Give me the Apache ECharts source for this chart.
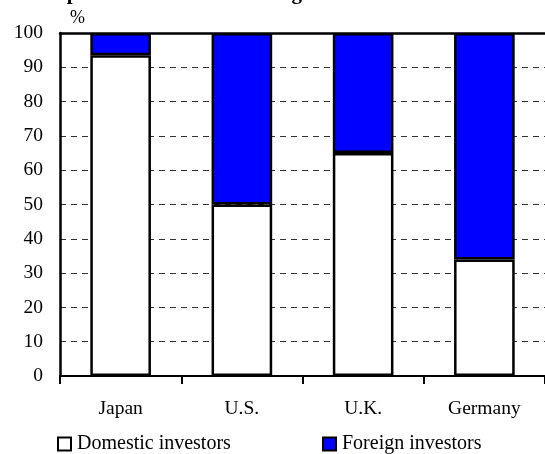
<!DOCTYPE html>
<html>
<head>
<meta charset="utf-8">
<style>html,body{margin:0;padding:0;background:#fff;}#c{width:545px;height:454px;}</style>
<script src="https://cdn.jsdelivr.net/npm/echarts@6/dist/echarts.min.js"></script>
</head>
<body>
<div id="c"></div>
<script>
const titleText = "Comparison of breakdown of government bond holders";
const categories = ["Japan", "U.S.", "U.K.", "Germany"];
const domestic = [93.5, 50, 65, 34];
const foreign = [6.5, 50, 35, 66];
const yTicks = [0, 10, 20, 30, 40, 50, 60, 70, 80, 90, 100];
const seriesNames = ["Domestic investors", "Foreign investors"];

const font = "'Liberation Serif', 'Times New Roman', serif";
const chart = echarts.init(document.getElementById('c'), null, {renderer: 'canvas'});
chart.setOption({
  animation: false,
  backgroundColor: '#fff',
  title: {
    text: titleText, left: 'center', top: -22,
    textStyle: {fontFamily: font, fontSize: 21, fontWeight: 'bold', color: '#000'}
  },
  grid: {left: 60, right: -6, top: 33, bottom: 78, containLabel: false},
  legend: [
    {data: [seriesNames[0]], left: 57, top: 434, padding: 0, icon: 'rect', itemWidth: 13, itemHeight: 13, itemGap: 4,
     textStyle: {fontFamily: font, fontSize: 20, color: '#000', padding: [0, 0, 0, 1]}},
    {data: [seriesNames[1]], left: 322, top: 434, padding: 0, icon: 'rect', itemWidth: 13, itemHeight: 13, itemGap: 4,
     textStyle: {fontFamily: font, fontSize: 20, color: '#000', padding: [0, 0, 0, 1]}}
  ],
  xAxis: [
    {type: 'category', data: categories, position: 'bottom',
     axisLine: {lineStyle: {color: '#000', width: 2}},
     axisTick: {show: true, length: 8, inside: false, lineStyle: {color: '#000', width: 2}},
     axisLabel: {fontFamily: font, fontSize: 19.5, color: '#000', margin: 23},
     splitLine: {show: false}},
    {type: 'category', data: categories, position: 'top',
     axisLine: {lineStyle: {color: '#000', width: 2.5}},
     axisTick: {show: false}, axisLabel: {show: false}, splitLine: {show: false}}
  ],
  yAxis: {
    type: 'value', min: yTicks[0], max: yTicks[yTicks.length - 1], interval: 10,
    name: '%', nameLocation: 'end', nameGap: 6,
    nameTextStyle: {fontFamily: font, fontSize: 18, color: '#000', align: 'left', padding: [0, 0, 0, 10]},
    axisLine: {show: true, lineStyle: {color: '#000', width: 2.5}},
    axisTick: {show: false},
    axisLabel: {fontFamily: font, fontSize: 19.5, color: '#000', margin: 17},
    splitLine: {show: true, lineStyle: {color: '#333', width: 1, type: [6, 5]}}
  },
  series: [
    {name: seriesNames[0], type: 'bar', stack: 'a', data: domestic, barWidth: '50%',
     itemStyle: {color: '#ffffff', borderColor: '#000', borderWidth: 2.5}},
    {name: seriesNames[1], type: 'bar', stack: 'a', data: foreign, barWidth: '50%',
     itemStyle: {color: '#0000ff', borderColor: '#000', borderWidth: 2.5}}
  ]
});
</script>
</body>
</html>
